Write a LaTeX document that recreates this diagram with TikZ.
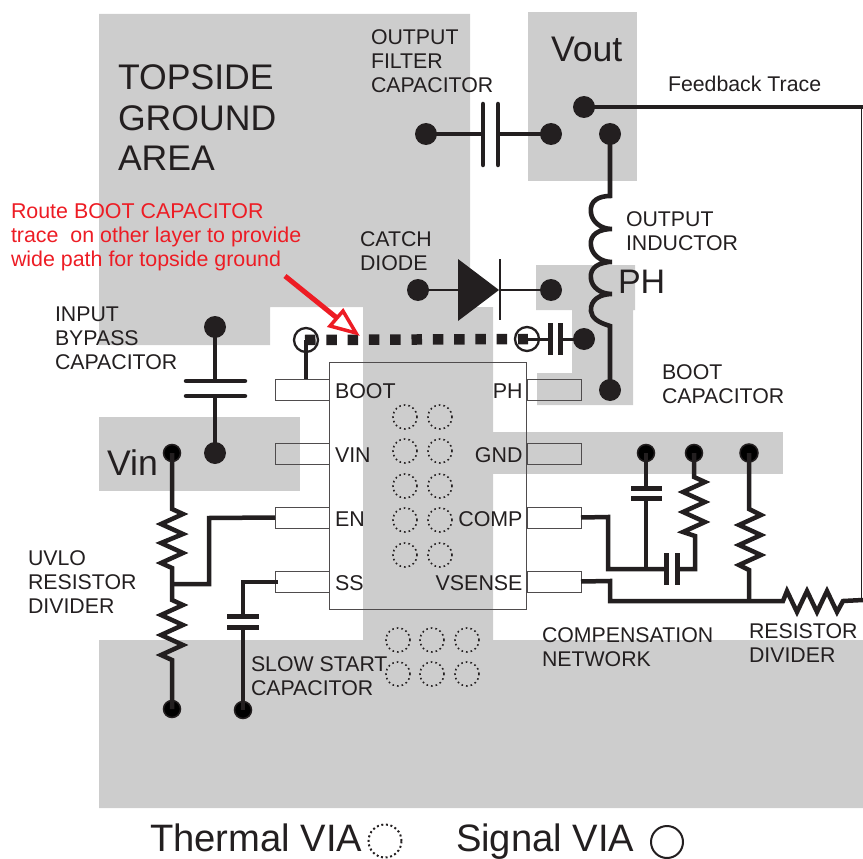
\documentclass[tikz,border=0pt]{standalone}
\usepackage{fontspec}
\setmainfont{Liberation Sans}
\definecolor{ink}{HTML}{231F20}
\definecolor{plane}{HTML}{CDCDCD}
\definecolor{alert}{HTML}{ED1C24}
\tikzset{
  dot/.style={circle,fill=ink,draw=none,minimum size=22pt,inner sep=0pt,outer sep=0pt},
  blackdot/.style={circle,fill=black,draw=ink,line width=1.5pt,minimum size=17pt,inner sep=0pt,outer sep=0pt},
  sigvia/.style={circle,draw=ink,line width=2.3pt,minimum size=24pt,inner sep=0pt,outer sep=0pt},
  thvia/.style={circle,draw=ink,line width=1.6pt,dash pattern=on 1.6pt off 3pt,minimum size=24pt,inner sep=0pt,outer sep=0pt},
  pinbox/.style={draw=ink!80,line width=1pt,minimum width=54pt,minimum height=21pt,inner sep=0pt,outer sep=0pt},
  wire/.style={draw=ink,line width=4.5pt,line join=miter},
  thinwire/.style={draw=ink,line width=2.6pt},
  plate/.style={draw=ink,line width=4.5pt,line cap=round},
  big/.style={font=\fontsize{35.6}{40}\selectfont,text=ink,inner sep=0pt,outer sep=0pt,anchor=base west},
  label/.style={font=\fontsize{21.3}{24}\selectfont,text=ink,inner sep=0pt,outer sep=0pt,align=left,anchor=west},
  pinlabel/.style={font=\fontsize{21.4}{24}\selectfont,text=ink,inner sep=0pt,outer sep=0pt},
  note/.style={font=\fontsize{21.4}{24}\selectfont,text=alert,inner sep=0pt,outer sep=0pt,align=left,anchor=west},
  legend/.style={font=\fontsize{38.2}{40}\selectfont,text=ink,inner sep=0pt,outer sep=0pt,anchor=base west},
}
\begin{document}
\begin{tikzpicture}[x=1pt,y=-1pt]
\useasboundingbox (0,0) rectangle (863,859);
% copper planes
\fill[plane] (99,14) -- (470,14) -- (470,307) -- (493,307) -- (493,640) -- (863,640) -- (863,808) -- (99,808) -- (99,640) -- (363,640) -- (363,307) -- (270,307) -- (270,345) -- (99,345) -- cycle;
\fill[plane] (99,417) rectangle (300,491);
\fill[plane] (493,432) rectangle (783,474);
\fill[plane] (528,12) rectangle (637,181);
\fill[plane] (536,265) -- (635,265) -- (635,310) -- (633,310) -- (633,405) -- (537,405) -- (537,373) -- (572,373) -- (572,310) -- (536,310) -- cycle;
% IC
\node[draw=ink!80,line width=1pt,minimum width=197.5pt,minimum height=247pt,inner sep=0pt,outer sep=0pt] (ic) at (428.2,485.5) {};
\node[pinbox] (pBoot) at (302,389.5) {};
\node[pinbox] (pVin) at (302,453.5) {};
\node[pinbox] (pEn) at (302,517.5) {};
\node[pinbox] (pSs) at (302,581.5) {};
\node[pinbox] (pPh) at (554,389.5) {};
\node[pinbox] (pGnd) at (554,453.5) {};
\node[pinbox] (pComp) at (554,517.5) {};
\node[pinbox] (pVsense) at (554,581.5) {};
\node[pinlabel,anchor=base west] (lBoot) at (335,398.5) {BOOT};
\node[pinlabel,anchor=base west] (lVin) at (335,462.5) {VIN};
\node[pinlabel,anchor=base west] (lEn) at (335,526) {EN};
\node[pinlabel,anchor=base west] (lSs) at (335,590.5) {SS};
\node[pinlabel,anchor=base east] (lPh) at (522.5,398.5) {PH};
\node[pinlabel,anchor=base east] (lGnd) at (522.5,462) {GND};
\node[pinlabel,anchor=base east] (lComp) at (522.5,526) {COMP};
\node[pinlabel,anchor=base east] (lVsense) at (522.5,590.5) {VSENSE};
% thermal vias
\node[thvia] (t1) at (405,417) {};
\node[thvia] (t2) at (440,417) {};
\node[thvia] (t3) at (405,451) {};
\node[thvia] (t4) at (440,451) {};
\node[thvia] (t5) at (405,486) {};
\node[thvia] (t6) at (440,486) {};
\node[thvia] (t7) at (405,520) {};
\node[thvia] (t8) at (440,520) {};
\node[thvia] (t9) at (405,555) {};
\node[thvia] (t10) at (440,555) {};
\node[thvia] (t11) at (398,640) {};
\node[thvia] (t12) at (432,640) {};
\node[thvia] (t13) at (467,640) {};
\node[thvia] (t14) at (398,674) {};
\node[thvia] (t15) at (432,674) {};
\node[thvia] (t16) at (467,674) {};
% dots
\node[dot] (fL) at (426,134) {};
\node[dot] (fR) at (551,134) {};
\node[dot] (vTop) at (584,107) {};
\node[dot] (indTop) at (610,134) {};
\node[dot] (indBot) at (610,390) {};
\node[dot] (dL) at (418,290) {};
\node[dot] (dR) at (551,290) {};
\node[dot] (bootR) at (584,339) {};
\node[dot] (byTop) at (215,327) {};
\node[dot] (byBot) at (215,453) {};
\node[blackdot] (vinD) at (172,453) {};
\node[blackdot] (gnd1) at (172,709) {};
\node[blackdot] (gnd2) at (243,710) {};
\node[blackdot] (cg1) at (646,453) {};
\node[blackdot] (cg2) at (694,453) {};
\node[blackdot,minimum size=18pt] (cg3) at (749,453) {};
\node[sigvia] (vL) at (306,340) {};
\node[sigvia] (vR) at (527,339) {};
% output filter cap
\draw[thinwire,line width=3.5pt] (fL.center) -- (483,134) (498,134) -- (fR.center);
\draw[plate] (483,104) -- (483,165);
\draw[plate] (498,104) -- (498,165);
% feedback
\coordinate (fbCorner) at (861.5,107);
\coordinate (fbEnd) at (861.5,601);
\draw[wire] (vTop.center) -- (863,107);
\draw[draw=ink,line width=1.8pt] (fbCorner) -- (fbEnd);
% inductor
\draw[wire,line width=4.6pt,line cap=butt] (indTop.center) -- (610,196)
  .. controls (600,196) and (589,200) .. (591,213)
  .. controls (592,221) and (600,229) .. (612,229)
  (612,229) .. controls (600,229) and (589,234) .. (591,246)
  .. controls (592,254) and (600,262) .. (612,262)
  (612,262) .. controls (600,262) and (589,267) .. (591,279)
  .. controls (592,287) and (600,294) .. (612,294)
  (612,294) .. controls (600,294) and (590,300) .. (591,311)
  .. controls (592,318) and (597,322) .. (610,326)
  -- (indBot.center);
% catch diode
\draw[thinwire] (dL.center) -- (458,290) (500,290) -- (dR.center);
\fill[ink] (458,259) -- (499,290) -- (458,321) -- cycle;
\draw[draw=ink,line width=2.6pt] (500,259) -- (500,320);
% boot trace
\coordinate (tr1) at ([xshift=-1pt]vL.center);
\coordinate (tr2) at ([xshift=1pt]vR.center);
\draw[draw=ink,line width=10.5pt,dash pattern=on 10.5pt off 10.8pt] (tr1) -- (tr2);
\draw[wire] (vL.center) -- (306,379);
\draw[thinwire,line width=3pt] (vR.center) -- (550,339) (560,339) -- (bootR.center);
\draw[draw=ink,line width=5pt] (550,323) -- (550,355);
\draw[draw=ink,line width=5pt] (560,323) -- (560,355);
% input bypass
\draw[wire] (byTop.center) -- (215,381) (215,396) -- (byBot.center);
\draw[plate] (186,381) -- (245,381);
\draw[plate] (186,396) -- (245,396);
% UVLO divider
\coordinate (uvMid) at (172,584);
\draw[wire] (vinD.center) -- (172,509) -- (183,514) -- (161,524) -- (183,534) -- (161,543) -- (183,553) -- (161,563) -- (172,568) -- (172,600)
  -- (183,605) -- (161,615) -- (183,625) -- (161,635) -- (183,645) -- (161,655) -- (172,660) -- (gnd1.center);
\draw[wire] (uvMid) -- (209,584) -- (209,518) -- (pEn.west);
% slow start
\draw[wire] (pSs.west) ++(3,0.5) -- (243,582) -- (243,616);
\draw[wire] (243,627) -- (gnd2.center);
\draw[draw=ink,line width=5pt] (227,616) -- (259,616);
\draw[draw=ink,line width=5pt] (227,627) -- (259,627);
% compensation
\draw[wire] (pComp.east) -- (608,517) -- (608,569) -- (666,569) (677,569) -- (695,569) -- (695,536) -- (683,532) -- (705,522) -- (683,512) -- (705,502) -- (683,492) -- (705,482) -- (694,477) -- (cg2.center);
\draw[draw=ink,line width=5pt] (666,553) -- (666,585);
\draw[draw=ink,line width=5pt] (677,553) -- (677,585);
\draw[wire] (cg1.center) -- (646,488) (646,498) -- (646,569);
\draw[draw=ink,line width=5pt] (631,488) -- (662,488);
\draw[draw=ink,line width=5pt] (631,498) -- (662,498);
% vsense divider
\coordinate (vsMid) at (749,601);
\draw[wire] (pVsense.east) -- (610,581) -- (610,601) -- (783,601) -- (787,591) -- (797,612) -- (807,591) -- (817,612) -- (827,591) -- (837,612) -- (843,601) -- (863,600);
\draw[wire] (cg3.center) -- (749,509) -- (761,515) -- (739,525) -- (761,535) -- (739,545) -- (761,555) -- (739,565) -- (749,570) -- (vsMid);
% red arrow
\coordinate (arS) at (285,276);
\coordinate (arT) at (356,333);
\draw[draw=alert,line width=5pt] (arS) -- (337,318);
\draw[draw=alert,line width=3.5pt,fill=white,line join=miter] (arT) -- (343,311) -- (330,326) -- cycle;
% big labels
\node[big] (topA) at (118,90) {TOPSIDE};
\node[big] (topB) at (118,130) {GROUND};
\node[big] (topC) at (118,170) {AREA};
\node[big] (vout) at (551,62) {Vout};
\node[big] (vin) at (107,475) {Vin};
\node[big,font=\fontsize{34}{40}\selectfont] (ph) at (618,293) {PH};
% labels
\node[label] (l1) at (371,61) {OUTPUT\\FILTER\\CAPACITOR};
\node[label] (l2) at (668,84) {Feedback Trace};
\node[label] (l3) at (626,231) {OUTPUT\\INDUCTOR};
\node[label] (l4) at (360,251) {CATCH\\DIODE};
\node[label] (l5) at (55,338) {INPUT\\BYPASS\\CAPACITOR};
\node[label] (l6) at (662,384) {BOOT\\CAPACITOR};
\node[label] (l7) at (28,582) {UVLO\\RESISTOR\\DIVIDER};
\node[label] (l8) at (251,676) {SLOW START\\CAPACITOR};
\node[label] (l9) at (542,647) {COMPENSATION\\NETWORK};
\node[label] (l10) at (749,643) {RESISTOR\\DIVIDER};
\node[note] (n1) at (11,237) {Route BOOT CAPACITOR\\trace\ \ on other layer to provide\\wide path for topside ground};
% legend
\node[legend] (lgA) at (150,851) {Thermal VIA};
\node[legend] (lgB) at (456,851) {Signal VIA};
\node[thvia,minimum size=33pt,line width=2pt,dash pattern=on 2pt off 2.6pt] (lgT) at (385,841) {};
\node[sigvia,minimum size=32pt,line width=2pt] (lgS) at (667,842) {};
\end{tikzpicture}
\end{document}
